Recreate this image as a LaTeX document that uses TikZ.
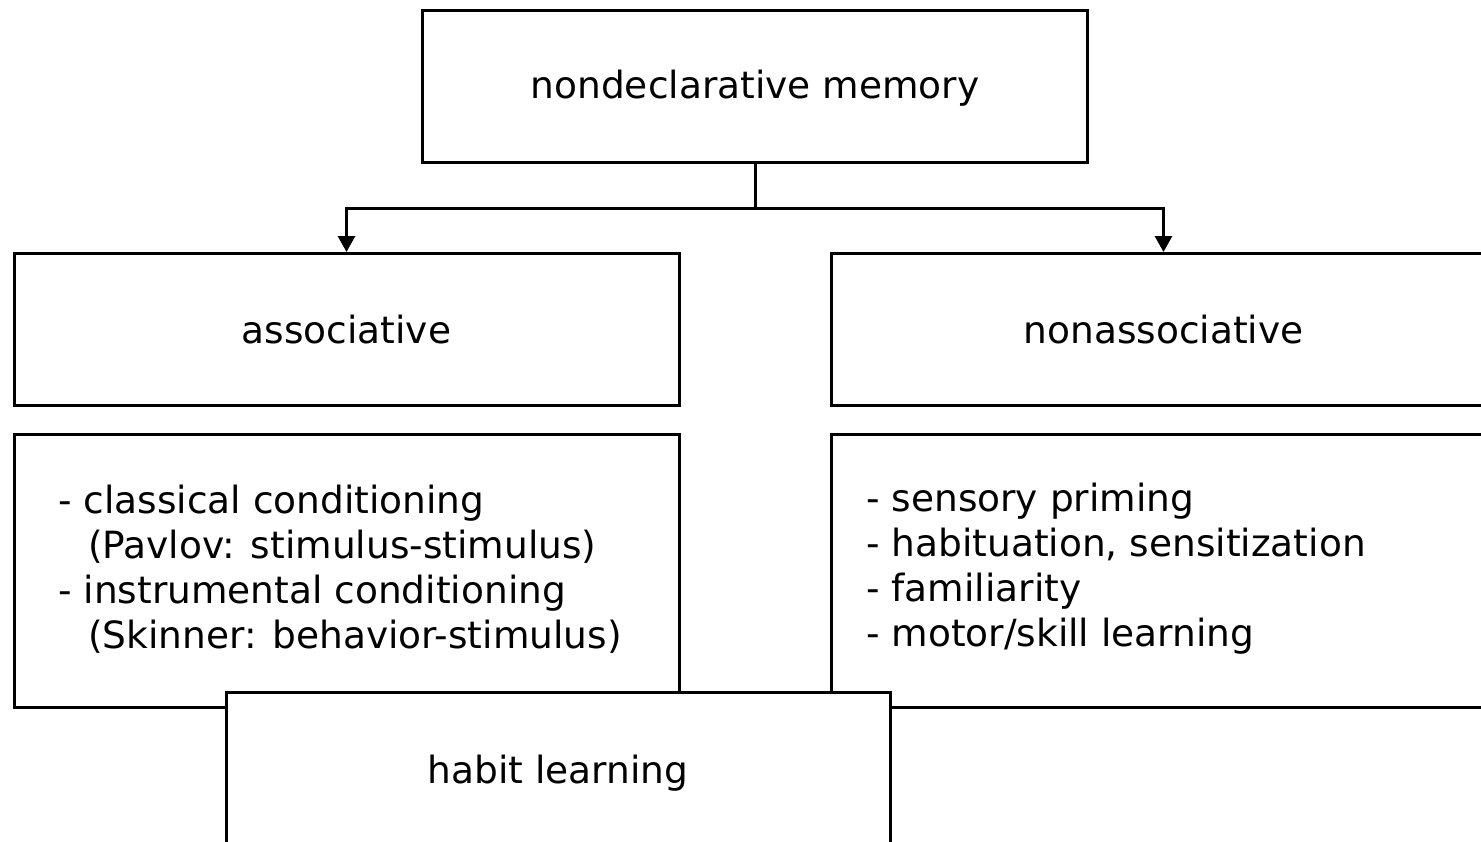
\documentclass[tikz,border=0pt]{standalone}
\usepackage{fontspec}
\setmainfont{DejaVu Sans}
\usetikzlibrary{arrows.meta}
\begin{document}
\begin{tikzpicture}[x=1pt,y=-1pt,
  box/.style={draw=black,line width=3pt,fill=white,rectangle,inner sep=0pt,
    minimum width=665pt,font=\fontsize{37.5}{45}\selectfont},
  listtext/.style={inner sep=0pt,anchor=west,align=left,font=\fontsize{37.5}{45}\selectfont},
  conn/.style={line width=3pt},
  arr/.style={conn,-{Triangle[length=16pt,width=17pt]}}]
\useasboundingbox (0,0) rectangle (1481,841);
\clip (0,0) rectangle (1481,841);
\node[box,minimum height=152pt,text depth=4pt] (top) at (755,86) {nondeclarative memory};
\node[box,minimum height=152pt] (assoc) at (346.5,329.5) {associative};
\node[box,minimum height=152pt] (nonassoc) at (1163.5,329.5) {nonassociative};
\node[box,minimum height=273pt] (assoclist) at (346.5,570.5) {};
\node[box,minimum height=273pt] (nonassoclist) at (1163.5,570.5) {};
\node[listtext] (assoctext) at (58,569) {- classical conditioning\\\hspace*{30pt}(Pavlov: stimulus-stimulus)\\- instrumental conditioning\\\hspace*{30pt}(Skinner: behavior-stimulus)};
\node[listtext] (nonassoctext) at (866,569) {- sensory priming\\- habituation, sensitization\\- familiarity\\- motor/skill learning};
\node[box,minimum width=664pt,minimum height=156pt,text depth=2pt] (habit) at (558,770) {habit learning};
\coordinate (j) at (755,208);
\draw[conn] (top.south) -- (j);
\draw[arr] (j) -| (assoc.north);
\draw[arr] (j) -| (nonassoc.north);
\end{tikzpicture}
\end{document}
